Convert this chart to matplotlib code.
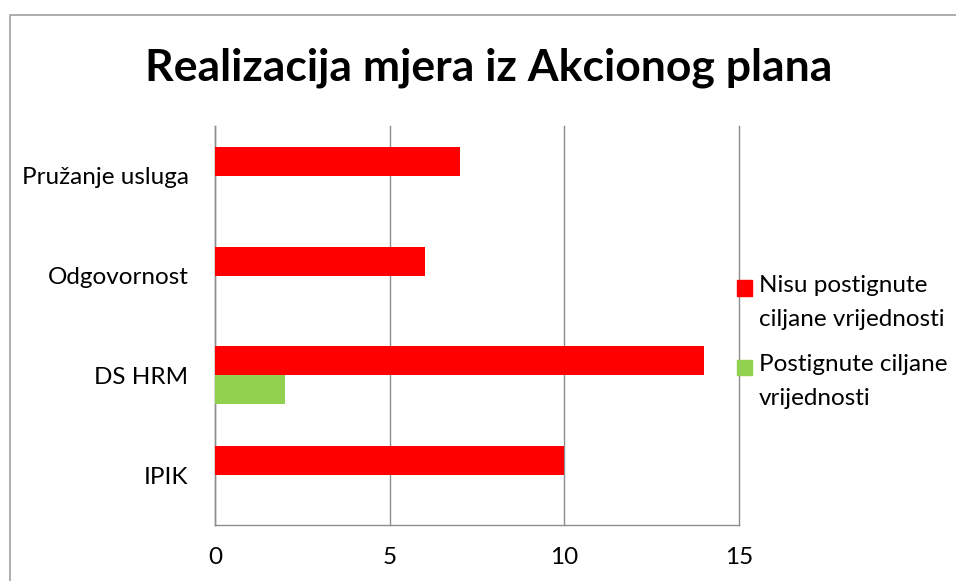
import matplotlib
matplotlib.use("Agg")
import matplotlib.pyplot as plt
from matplotlib.patches import Rectangle
import numpy as np

categories = ["Pružanje usluga", "Odgovornost", "DS HRM", "IPIK"]
nisu = [7, 6, 14, 10]
postignute = [0, 0, 2, 0]
series_labels = ["Nisu postignute\nciljane vrijednosti", "Postignute ciljane\nvrijednosti"]
colors = ["#FF0000", "#92D050"]
xticks = [0, 5, 10, 15]
title = "Realizacija mjera iz Akcionog plana"

W, H = 956, 581
fig = plt.figure(figsize=(W / 100, H / 100), dpi=100)
plt.rcParams['font.family'] = ['Lato', 'DejaVu Sans']

# outer chart border
fig.patches.append(Rectangle((10 / W, -0.1), 1.2, (H - 15) / H + 0.1, transform=fig.transFigure,
                             fill=False, edgecolor="#A0A0A0", linewidth=1.2))

ax = fig.add_axes([215 / W, 1 - 525 / H, (739 - 215) / W, (525 - 126) / H])
y = np.arange(len(categories))
h = 0.29
b1 = ax.barh(y - h / 2, nisu, height=h, color=colors[0], zorder=3)
b2 = ax.barh(y + h / 2, postignute, height=h, color=colors[1], zorder=3)
ax.set_ylim(len(categories) - 0.5, -0.5)
ax.set_xlim(0, 15)
ax.set_xticks(xticks)
ax.set_xticklabels([str(t) for t in xticks], fontsize=17.5)
ax.set_yticks(y)
ax.set_yticklabels(categories, fontsize=17.5)
ax.tick_params(axis='y', length=0, pad=19)
ax.tick_params(axis='x', length=0, pad=16)
ax.xaxis.grid(True, color="#8C8C8C", linewidth=1.0, zorder=0)
for gl in ax.get_xgridlines():
    gl.set_clip_on(False)
ax.set_axisbelow(True)
for s in ["top", "right"]:
    ax.spines[s].set_visible(False)
for s in ["left", "bottom"]:
    ax.spines[s].set_color("#8C8C8C")
    ax.spines[s].set_linewidth(1.0)

fig.text(489 / W, 1 - 68 / H, title, ha="center", va="center", fontsize=32, fontweight="bold")

# legend drawn manually
leg_y = [288, 367]
for lab, col, ly in zip(series_labels, colors, leg_y):
    fig.patches.append(Rectangle((737 / W, 1 - (ly + 7.5) / H), 15 / W, 15 / H,
                                 transform=fig.transFigure, color=col))
    fig.text(759 / W, 1 - (ly - 13) / H, lab, ha="left", va="top", fontsize=17.5, linespacing=1.75)

fig.savefig("out.png", dpi=100)
